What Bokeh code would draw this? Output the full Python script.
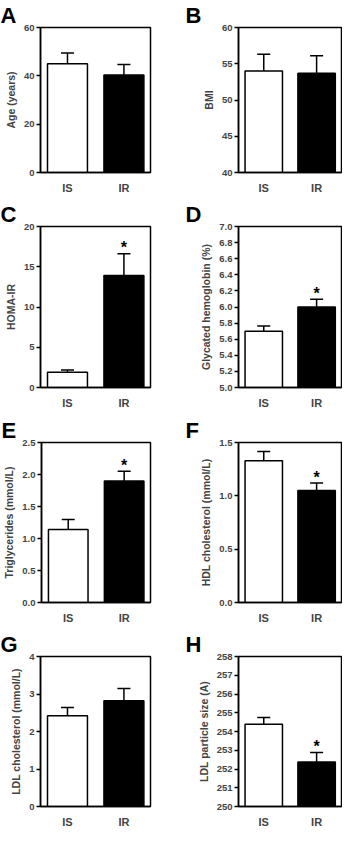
from bokeh.plotting import figure
from bokeh.models import (ColumnDataSource, Whisker, FixedTicker, TeeHead, Range1d,
                          NumeralTickFormatter)
from bokeh.layouts import column, row
from bokeh.embed import file_html
from bokeh.resources import INLINE
from bokeh.core.properties import value

groups = ["IS", "IR"]

age_mean = [45.0, 40.3]
age_sem = [4.5, 4.4]
bmi_mean = [54.0, 53.7]
bmi_sem = [2.3, 2.4]
homa_mean = [1.9, 13.9]
homa_sem = [0.28, 2.7]
hba1c_mean = [5.70, 6.00]
hba1c_sem = [0.063, 0.095]
tg_mean = [1.14, 1.90]
tg_sem = [0.155, 0.15]
hdl_mean = [1.33, 1.05]
hdl_sem = [0.085, 0.07]
ldl_mean = [2.42, 2.82]
ldl_sem = [0.22, 0.33]
size_mean = [254.39, 252.38]
size_sem = [0.36, 0.50]

FONT = "Liberation Sans"

panels = [
    dict(letter="A", ylabel="Age (years)", mean=age_mean, sem=age_sem, yr=(0, 60), ticks=[0, 20, 40, 60], fmt="0", star=False),
    dict(letter="B", ylabel="BMI", mean=bmi_mean, sem=bmi_sem, yr=(40, 60), ticks=[40, 45, 50, 55, 60], fmt="0", star=False),
    dict(letter="C", ylabel="HOMA-IR", mean=homa_mean, sem=homa_sem, yr=(0, 20), ticks=[0, 5, 10, 15, 20], fmt="0", star=True),
    dict(letter="D", ylabel="Glycated hemoglobin (%)", mean=hba1c_mean, sem=hba1c_sem, yr=(5.0, 7.0),
         ticks=[5.0, 5.2, 5.4, 5.6, 5.8, 6.0, 6.2, 6.4, 6.6, 6.8, 7.0], fmt="0.0", star=True),
    dict(letter="E", ylabel="Triglycerides (mmol/L)", mean=tg_mean, sem=tg_sem, yr=(0, 2.5), ticks=[0, 0.5, 1.0, 1.5, 2.0, 2.5], fmt="0.0", star=True),
    dict(letter="F", ylabel="HDL cholesterol (mmol/L)", mean=hdl_mean, sem=hdl_sem, yr=(0, 1.5), ticks=[0, 0.5, 1.0, 1.5], fmt="0.0", star=True),
    dict(letter="G", ylabel="LDL cholesterol (mmol/L)", mean=ldl_mean, sem=ldl_sem, yr=(0, 4), ticks=[0, 1, 2, 3, 4], fmt="0", star=False),
    dict(letter="H", ylabel="LDL particle size (A)", mean=size_mean, sem=size_sem, yr=(250, 258), ticks=list(range(250, 259)), fmt="0", star=True),
]

# (height, border_top, border_bottom) per row
rows_geo = [(199, 20, 27), (216, 25, 28), (211, 26, 22), (204, 30, 16)]
XR = (0.522, 2.471)


def make_panel(i, d):
    r, c = divmod(i, 2)
    h, bt, bb = rows_geo[r]
    if c == 0:
        w, bl, br, toff = 171, 40, 21, -40
    else:
        w, bl, br, toff = 171, 67, 1, -53
    p = figure(width=w, height=h, output_backend="svg", toolbar_location=None,
               x_range=Range1d(*XR), y_range=Range1d(*d["yr"]),
               min_border_left=bl, min_border_right=br, min_border_top=bt, min_border_bottom=bb)
    p.title.text = d["letter"]
    p.title.align = "left"
    p.title.offset = toff
    p.title.standoff = 0
    p.title.vertical_align = "bottom"
    p.title.text_font = FONT
    p.title.text_font_style = "bold"
    p.title.text_font_size = "22px"
    p.title.text_color = "black"

    p.xgrid.visible = False
    p.ygrid.visible = False
    p.outline_line_color = "black"
    p.outline_line_width = 1.5
    p.background_fill_color = "white"
    p.border_fill_color = "white"

    xs = [1, 2]
    upper = [m + s for m, s in zip(d["mean"], d["sem"])]
    src = ColumnDataSource(dict(x=xs, mean=d["mean"], upper=upper, grp=groups,
                                fill=["white", "black"]))
    p.vbar(x="x", top="mean", bottom=d["yr"][0], width=0.708, source=src,
           fill_color="fill", line_color="black", line_width=1.5)
    wh = Whisker(source=src, base="x", upper="upper", lower="mean", dimension="height",
                 line_color="black", line_width=1.5, lower_head=None,
                 upper_head=TeeHead(size=13, line_color="black", line_width=1.5))
    p.add_layout(wh)

    if d["star"]:
        p.text(x=[2], y=[upper[1]], text=["*"], text_align="center", text_baseline="alphabetic",
               text_font=value(FONT), text_font_size="16px", text_font_style="bold",
               text_color="black", y_offset=-6)

    ya = p.yaxis[0]
    ya.ticker = FixedTicker(ticks=d["ticks"])
    ya.formatter = NumeralTickFormatter(format=d["fmt"])
    ya.axis_label = d["ylabel"]
    ya.axis_label_text_font = FONT
    ya.axis_label_text_font_style = "bold"
    ya.axis_label_text_font_size = "10.5px"
    ya.axis_label_standoff = 4
    ya.major_label_text_font = FONT
    ya.major_label_text_font_style = "bold"
    ya.major_label_text_font_size = "9.5px"
    ya.major_label_standoff = 2
    ya.major_tick_in = 0
    ya.major_tick_out = 4
    ya.minor_tick_line_color = None
    ya.axis_line_width = 1.5
    ya.major_tick_line_width = 1.5

    xa = p.xaxis[0]
    xa.ticker = FixedTicker(ticks=xs)
    xa.major_label_overrides = {1: "IS", 2: "IR"}
    xa.major_label_text_font = FONT
    xa.major_label_text_font_style = "bold"
    xa.major_label_text_font_size = "11px"
    xa.major_label_standoff = 3
    xa.major_tick_line_color = None
    xa.minor_tick_line_color = None
    xa.axis_line_width = 1.5
    return p


figs = [make_panel(i, d) for i, d in enumerate(panels)]
layout = column(row(figs[0], figs[1]), row(figs[2], figs[3]),
                row(figs[4], figs[5]), row(figs[6], figs[7]))

open("out.html", "w").write(file_html(layout, INLINE))
